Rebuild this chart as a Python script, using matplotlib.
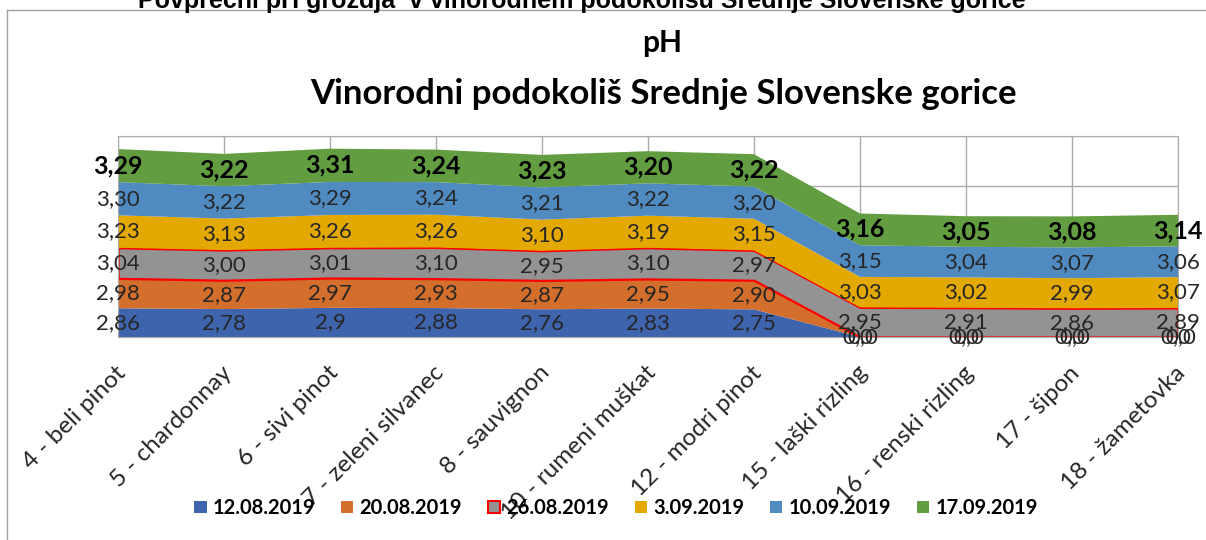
import numpy as np
import matplotlib.pyplot as plt
from matplotlib.patches import Patch
from matplotlib.lines import Line2D
from matplotlib.transforms import ScaledTranslation

plt.rcParams['font.family'] = ['Lato', 'DejaVu Sans']

sorte = ['4 - beli pinot', '5 - chardonnay', '6 - sivi pinot', '7 - zeleni silvanec',
         '8 - sauvignon', '10 - rumeni muškat', '12 - modri pinot', '15 - laški rizling',
         '16 - renski rizling', '17 - šipon', '18 - žametovka']
datumi = ['12.08.2019', '20.08.2019', '26.08.2019', '3.09.2019', '10.09.2019', '17.09.2019']

ph_1208 = [2.86, 2.78, 2.9, 2.88, 2.76, 2.83, 2.75, 0, 0, 0, 0]
ph_2008 = [2.98, 2.87, 2.97, 2.93, 2.87, 2.95, 2.90, 0, 0, 0, 0]
ph_2608 = [3.04, 3.00, 3.01, 3.10, 2.95, 3.10, 2.97, 2.95, 2.91, 2.86, 2.89]
ph_0309 = [3.23, 3.13, 3.26, 3.26, 3.10, 3.19, 3.15, 3.03, 3.02, 2.99, 3.07]
ph_1009 = [3.30, 3.22, 3.29, 3.24, 3.21, 3.22, 3.20, 3.15, 3.04, 3.07, 3.06]
ph_1709 = [3.29, 3.22, 3.31, 3.24, 3.23, 3.20, 3.22, 3.16, 3.05, 3.08, 3.14]

serije = [ph_1208, ph_2008, ph_2608, ph_0309, ph_1009, ph_1709]
barve = ['#3E64AE', '#D36E2C', '#939393', '#E3A900', '#4F8AC1', '#629D41']


def fmt(v, i):
    # prva serija ima splosni format (2,9), ostale dve decimalki
    if v == 0:
        return '0,0'
    if i == 0:
        s = ('%.2f' % v).rstrip('0').rstrip('.')
    else:
        s = '%.2f' % v
    return s.replace('.', ',')


fig = plt.figure(figsize=(12.06, 5.4), dpi=100)
W, H = 1206, 540
ax = fig.add_axes([118 / W, 1 - 337 / H, (1178 - 118) / W, (337 - 136) / H])

x = np.arange(len(sorte))
polys = ax.stackplot(x, *serije, colors=barve, labels=datumi, linewidth=0)
polys[2].set_edgecolor('#FF0000')
polys[2].set_linewidth(1.6)

ax.set_xlim(0, len(sorte) - 1)
ax.set_ylim(0, 20)
ax.set_yticks([0, 5, 10, 15, 20])
ax.set_yticklabels([])
ax.tick_params(axis='y', length=0)
ax.set_axisbelow(True)
ax.grid(True, color='#ABABAB', linewidth=1)
for s in ax.spines.values():
    s.set_color('#ABABAB')

# oznake vrednosti
spodaj = np.zeros(len(sorte))
for i, ser in enumerate(serije):
    ser = np.array(ser)
    for j in range(len(sorte)):
        yc = spodaj[j] + ser[j] / 2
        dx = 0
        if ser[j] == 0:
            dx = -0.025 if i == 0 else 0.025
        if i == len(serije) - 1:
            ax.text(x[j], yc, fmt(ser[j], i), ha='center', va='center',
                    fontsize=18, fontweight='bold', color='#000000')
        else:
            ax.text(x[j] + dx, yc, fmt(ser[j], i), ha='center', va='center',
                    fontsize=16, color='#262626')
    spodaj += ser

ax.set_xticks(x)
ax.set_xticklabels(sorte, rotation=45, ha='right', rotation_mode='anchor',
                   fontsize=17.5, color='#262626')
ax.tick_params(axis='x', length=0, pad=18)
odmik = ScaledTranslation(-3 / 100, 0, fig.dpi_scale_trans)
for lab in ax.get_xticklabels():
    lab.set_transform(lab.get_transform() + odmik)

# naslov
fig.text(662 / W, 1 - 52 / H, 'pH', ha='center', va='baseline',
         fontsize=21.5, fontweight='bold')
fig.text(663 / W, 1 - 104 / H, 'Vinorodni podokoliš Srednje Slovenske gorice',
         ha='center', va='baseline', fontsize=25, fontweight='bold')
fig.text(582 / W, 1 - 8 / H,
         'Povprečni pH grozdja  v vinorodnem podokolišu Srednje Slovenske gorice',
         ha='center', va='baseline', fontsize=18, fontweight='bold',
         family=['Liberation Sans', 'DejaVu Sans'])

# okvir grafikona
fig.add_artist(Line2D([7 / W, 7 / W], [0, 1 - 10 / H], transform=fig.transFigure,
                      color='#A0A0A0', linewidth=1))
fig.add_artist(Line2D([7 / W, 1], [1 - 10 / H, 1 - 10 / H], transform=fig.transFigure,
                      color='#A0A0A0', linewidth=1))

# legenda
rocaji = []
for i, d in enumerate(datumi):
    if i == 2:
        rocaji.append(Patch(facecolor=barve[i], edgecolor='#FF0000', linewidth=1.5, label=d))
    else:
        rocaji.append(Patch(facecolor=barve[i], edgecolor='none', label=d))
fig.legend(handles=rocaji, loc='center', bbox_to_anchor=(616 / W, 1 - 508 / H), ncol=6,
           frameon=False, prop={'weight': 'bold', 'size': 14.5},
           handlelength=0.6, handleheight=0.6, handletextpad=0.3, columnspacing=1.3)

fig.savefig('out.png', dpi=100)
